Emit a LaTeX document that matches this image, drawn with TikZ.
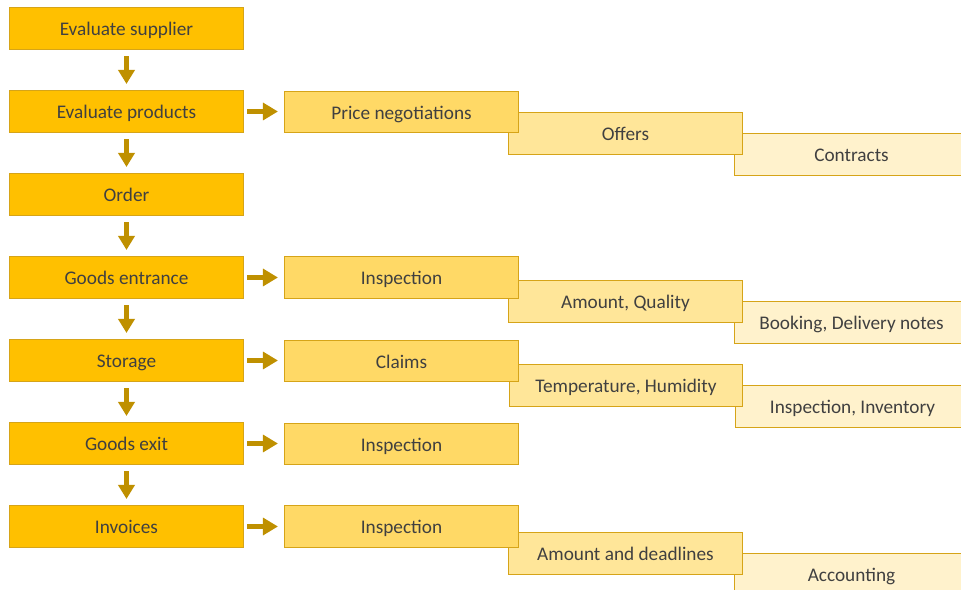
\documentclass[tikz,border=0pt]{standalone}
\usepackage{fontspec}
\setmainfont{Carlito}
\usepackage{tikz}
\usetikzlibrary{arrows.meta}

\definecolor{gold}{RGB}{255,192,0}
\definecolor{goldA}{RGB}{255,217,102}
\definecolor{goldB}{RGB}{255,230,153}
\definecolor{goldC}{RGB}{255,242,204}
\definecolor{rim}{RGB}{214,164,24}
\definecolor{arr}{RGB}{191,144,0}
\definecolor{txt}{RGB}{64,64,64}

\begin{document}
\begin{tikzpicture}[x=0.025cm, y=-0.025cm,
    box/.style={draw=rim, line width=0.025cm, minimum width=5.825cm, minimum height=1.025cm,
      inner sep=0pt, outer sep=0pt, text=txt, text height=10.2pt, text depth=0pt,
      font=\fontsize{13.7}{16}\selectfont},
    stage/.style={box, fill=gold},
    subA/.style={box, fill=goldA},
    subB/.style={box, fill=goldB},
    subC/.style={box, fill=goldC},
    downarr/.style={arr, line width=0.125cm, shorten <=0.175cm, shorten >=0.175cm,
      -{Triangle[width=0.4cm, length=0.35cm]}},
    rightarr/.style={arr, line width=0.125cm, shorten <=0.1cm, shorten >=0.175cm,
      -{Triangle[width=0.42cm, length=0.375cm]}}]
    \useasboundingbox (0, 0) rectangle (961, 590);
    % fourth level (behind)
    \node[subC] (contr) at (851.5, 154.5) {Contracts};
    \node[subC] (book) at (851.5, 322.5) {Booking, Delivery notes};
    \node[subC] (invent) at (852.5, 406.5) {Inspection, Inventory};
    \node[subC] (acct) at (851.5, 574.5) {Accounting};
    % third level
    \node[subB] (offers) at (625.5, 133.5) {Offers};
    \node[subB] (amtq) at (625.5, 301.5) {Amount, Quality};
    \node[subB] (temp) at (626, 385.5) {Temperature, Humidity};
    \node[subB] (amtd) at (625.5, 553.5) {Amount and deadlines};
    % second level
    \node[subA] (price) at (401.5, 112) {Price negotiations};
    \node[subA] (insA) at (401.5, 277.5) {Inspection};
    \node[subA] (claims) at (401.5, 361) {Claims};
    \node[subA] (insB) at (401.5, 444) {Inspection};
    \node[subA] (insC) at (401.5, 526.5) {Inspection};
    % main chain
    \node[stage] (sup) at (126.5, 28.5) {Evaluate supplier};
    \node[stage] (prod) at (126.5, 111.5) {Evaluate products};
    \node[stage] (order) at (126.5, 194.5) {Order};
    \node[stage] (entr) at (126.5, 277.5) {Goods entrance};
    \node[stage] (stor) at (126.5, 360.5) {Storage};
    \node[stage] (exit) at (126.5, 443.5) {Goods exit};
    \node[stage] (inv) at (126.5, 526.5) {Invoices};
    \draw[downarr] (sup) -- (prod);
    \draw[downarr] (prod) -- (order);
    \draw[downarr] (order) -- (entr);
    \draw[downarr] (entr) -- (stor);
    \draw[downarr] (stor) -- (exit);
    \draw[downarr] (exit) -- (inv);
    \draw[rightarr] (prod) -- (prod -| price.west);
    \draw[rightarr] (entr) -- (insA);
    \draw[rightarr] (stor) -- (stor -| claims.west);
    \draw[rightarr] (exit) -- (exit -| insB.west);
    \draw[rightarr] (inv) -- (insC);
  \end{tikzpicture}
\end{document}
